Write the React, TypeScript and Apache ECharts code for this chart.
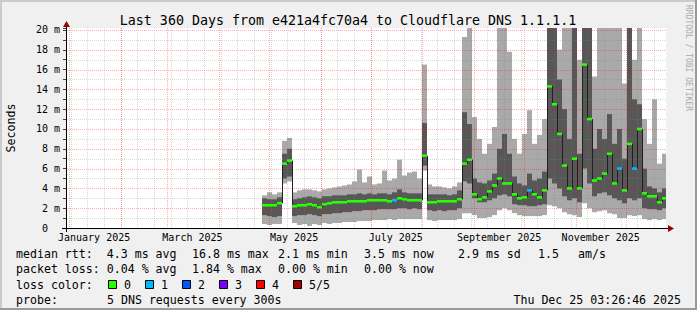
import React, { useEffect, useRef } from 'react';
import * as echarts from 'echarts';

// ---------- data ----------
const TITLE = 'Last 360 Days from e421a4fc70a4 to Cloudflare DNS 1.1.1.1';
const END_TIME = Date.UTC(2025, 11, 25, 3, 26, 46);
const SPAN_DAYS = 360;
const FIRST_SAMPLE = '2025-04-27';
const STEP_DAYS = 3;

// smoke: 5 DNS requests sorted -> min, 2nd, median, 4th, max (ms)
const pingMin = [
  0.4, 0.3, 0.4, 0.4, 4.5, 4.7, 0.5, 0.3, 0.4, 0.2,
  0.4, 0.3, 0.5, 0.4, 0.5, 0.5, 0.6, 0.6, 0.6, 0.7,
  0.7, 0.7, 0.8, 0.8, 0.8, 0.9, 0.8, 0.9, 0.9, 0.9,
  0.9, 0.9, 5.8, 0.8, 0.7, 0.8, 0.8, 0.8, 0.8, 0.9,
  1.5, 1.5, 1.3, 1.0, 1.0, 1.1, 1.3, 1.8, 2.0, 1.8,
  1.5, 1.3, 1.2, 1.2, 1.2, 1.2, 1.3, 2.3, 2.2, 2.0,
  1.6, 1.4, 1.3, 1.1, 2.5, 2.0, 1.6, 1.7, 1.8, 1.5,
  1.4, 1.0, 1.0, 1.3, 1.2, 1.3, 0.9, 0.8, 0.9, 0.8,
  0.9,
];
const pingLow = [
  1.3, 1.2, 1.1, 1.2, 5.0, 5.2, 1.2, 1.3, 1.3, 1.4,
  1.3, 1.2, 1.4, 1.4, 1.5, 1.5, 1.6, 1.6, 1.7, 1.7,
  1.8, 1.8, 1.8, 1.9, 1.9, 1.9, 1.9, 2.0, 2.0, 1.9,
  2.0, 1.9, 6.3, 1.8, 1.7, 1.8, 1.7, 1.8, 1.8, 2.0,
  4.7, 4.5, 3.0, 2.6, 2.6, 2.8, 3.0, 3.3, 3.4, 3.2,
  2.4, 2.3, 2.3, 2.2, 2.2, 2.3, 2.4, 5.0, 4.5, 4.0,
  3.2, 2.8, 3.0, 2.6, 6.0, 4.5, 3.2, 3.5, 3.6, 3.3,
  3.0, 2.8, 2.5, 3.0, 2.8, 3.0, 2.0, 1.9, 1.9, 1.8,
  2.0,
];
const medianRtt = [
  2.3, 2.3, 2.3, 2.5, 6.5, 6.8, 2.2, 2.3, 2.3, 2.4,
  2.3, 2.1, 2.4, 2.5, 2.6, 2.6, 2.6, 2.7, 2.7, 2.7,
  2.7, 2.8, 2.8, 2.8, 2.8, 2.7, 2.8, 3.0, 2.9, 2.8,
  2.8, 2.8, 7.3, 2.6, 2.6, 2.7, 2.7, 2.7, 2.7, 2.9,
  6.5, 6.9, 3.4, 2.9, 3.1, 3.7, 4.3, 5.0, 4.5, 4.5,
  3.4, 3.0, 3.1, 3.8, 3.4, 3.1, 3.8, 14.3, 12.5, 9.5,
  6.3, 4.0, 7.0, 4.0, 16.5, 11.0, 4.8, 5.0, 5.5, 7.5,
  4.5, 6.0, 3.8, 8.5, 6.0, 10.0, 3.5, 3.2, 3.2, 2.6,
  3.0,
];
const pingHigh = [
  3.0, 2.9, 2.9, 3.1, 7.5, 8.0, 2.9, 3.0, 3.1, 3.2,
  3.1, 3.0, 3.2, 3.2, 3.3, 3.3, 3.3, 3.4, 3.4, 3.5,
  3.4, 3.5, 3.4, 3.5, 3.5, 3.4, 3.6, 3.9, 3.6, 3.5,
  3.5, 3.5, 10.6, 3.4, 3.4, 3.4, 3.4, 3.3, 3.4, 3.8,
  11.7, 10.5, 5.0, 4.6, 4.5, 4.8, 5.5, 8.0, 9.5, 7.5,
  5.2, 4.5, 4.3, 5.5, 4.8, 5.0, 5.7, 20.5, 20.5, 15.0,
  12.0, 9.0, 20.5, 7.5, 20.5, 20.5, 8.0, 10.0, 9.0, 11.5,
  8.5, 10.0, 7.0, 20.5, 13.0, 12.5, 6.0, 4.2, 4.0, 3.6,
  4.0,
];
const pingMax = [
  3.3, 3.6, 3.4, 3.6, 8.8, 9.1, 3.6, 3.8, 3.9, 3.9,
  3.8, 3.7, 3.9, 4.0, 4.1, 4.2, 4.3, 4.4, 4.7, 5.9,
  4.6, 5.2, 4.4, 4.5, 5.8, 4.8, 5.0, 6.9, 5.3, 5.6,
  5.7, 5.0, 16.5, 4.4, 4.2, 4.2, 4.1, 4.0, 4.2, 4.6,
  19.3, 20.5, 11.2, 9.0, 7.5, 8.5, 10.2, 20.5, 20.5, 17.8,
  9.0, 7.5, 9.5, 11.9, 8.5, 9.4, 11.0, 20.5, 20.5, 18.0,
  20.5, 20.5, 20.5, 17.0, 20.5, 20.5, 15.3, 20.5, 20.5, 20.5,
  20.5, 20.5, 14.6, 20.5, 17.0, 20.5, 11.0, 8.5, 13.0, 6.5,
  7.5,
];
const lossCount = [
  0, 0, 0, 0, 0, 0, 0, 0, 0, 0,
  0, 0, 0, 0, 0, 0, 0, 0, 0, 0,
  0, 0, 0, 0, 0, 0, 1, 0, 0, 0,
  0, 0, 0, 0, 0, 0, 0, 0, 0, 0,
  0, 0, 0, 0, 0, 0, 0, 0, 0, 0,
  0, 0, 0, 1, 0, 0, 0, 0, 0, 0,
  0, 0, 0, 0, 0, 0, 0, 0, 0, 0,
  0, 1, 0, 0, 1, 0, 0, 0, 0, 0,
  0,
];

const Y_MAX = 20.2;
const MONTH_LABELS = ['January 2025', 'March 2025', 'May 2025', 'July 2025', 'September 2025', 'November 2025'];
const MONTH_LABEL_DATES = ['2025-01-16', '2025-03-16', '2025-05-16', '2025-07-16', '2025-09-16', '2025-11-16'];

const LOSS_LABELS = ['0', '1', '2', '3', '4', '5/5'];
const LOSS_COLORS = ['#26ff00', '#00b8ff', '#0059ff', '#7b00ff', '#ff0000', '#a10000'];

const RTT_ITEMS = ['median rtt:  4.3 ms avg', '16.8 ms max', '2.1 ms min', '3.5 ms now', '2.9 ms sd', '1.5', 'am/s'];
const LOSS_ITEMS = ['packet loss: 0.04 % avg', '1.84 % max', '0.00 % min', '0.00 % now'];
const PROBE_LABEL = 'probe:';
const PROBE_TEXT = '5 DNS requests every 300s';
const STAMP = 'Thu Dec 25 03:26:46 2025';
const LOSS_COLOR_LABEL = 'loss color:';
const WATERMARK = 'RRDTOOL / TOBI OETIKER';
const Y_TITLE = 'Seconds';

// ---------- styles ----------
const MONO = '"DejaVu Sans Mono", monospace';
const LIGHT = '#a9a9a9';
const DARK = '#575757';
const MAJOR = 'rgba(255,0,0,0.32)';
const MINOR = 'rgba(130,130,130,0.32)';

const DAY = 86400000;

function buildOption() {
  const endDay = END_TIME / DAY;
  const startDay = endDay - SPAN_DAYS;
  const firstDay = Date.parse(FIRST_SAMPLE) / DAY;

  const smoke = medianRtt.map((m, i) => [
    firstDay + i * STEP_DAYS, pingMin[i], pingLow[i], m, pingHigh[i], pingMax[i], lossCount[i],
    i > 0 ? medianRtt[i - 1] : m,
  ]);

  const vGrid: number[][] = [];
  for (let d = Math.ceil(startDay / 10) * 10; d < endDay; d += 10) vGrid.push([d, 0]);
  for (let m = 0; m < 12; m++) vGrid.push([Date.UTC(2025, m, 1) / DAY, 1]);
  const hGrid: number[][] = [];
  for (let v = 1; v <= 20; v++) hGrid.push([startDay, v, v % 2 === 0 ? 1 : 0]);

  const labelDays = MONTH_LABEL_DATES.map((s) => Date.parse(s) / DAY);

  const colOf = (api: any, cs: any, x: number) => {
    const l = Math.round(api.coord([x, 0])[0]);
    const r = Math.min(Math.round(api.coord([x + STEP_DAYS, 0])[0]), cs.x + cs.width);
    return [l, r];
  };
  const yOf = (api: any, cs: any, x: number, v: number) => Math.max(cs.y, api.coord([x, Math.min(v, Y_MAX)])[1]);

  const textEl = (text: string, x: number, y: number, extra: any = {}) => ({
    type: 'text', x, y, silent: true,
    style: { text, fill: '#000', fontFamily: MONO, fontSize: 11.6, verticalAlign: 'middle', align: 'left', ...extra },
  });

  const rttX = [16, 192, 278, 364, 458, 538, 578];
  const lossX = [16, 192, 278, 364];
  const rows = [254, 269, 284.5, 300];

  const graphics: any[] = [
    { type: 'rect', shape: { x: 0, y: 0, width: 697, height: 2 }, style: { fill: '#cbcbcb' }, silent: true },
    { type: 'rect', shape: { x: 0, y: 0, width: 2, height: 310 }, style: { fill: '#cbcbcb' }, silent: true },
    { type: 'rect', shape: { x: 0, y: 308, width: 697, height: 2 }, style: { fill: '#999999' }, silent: true },
    { type: 'rect', shape: { x: 695, y: 0, width: 2, height: 310 }, style: { fill: '#999999' }, silent: true },
    textEl(TITLE, 348, 20, { align: 'center', fontSize: 13.3 }),
    { ...textEl(Y_TITLE, 11, 128, { align: 'center' }), rotation: Math.PI / 2 },
    { ...textEl(WATERMARK, 688, 5, { fontSize: 8, fill: '#aaaaaa' }), rotation: -Math.PI / 2 },
    // axes
    { type: 'line', z: 50, shape: { x1: 66.5, y1: 25, x2: 66.5, y2: 232 }, style: { stroke: '#000', lineWidth: 1 }, silent: true },
    { type: 'line', z: 50, shape: { x1: 62, y1: 228.5, x2: 669, y2: 228.5 }, style: { stroke: '#000', lineWidth: 1 }, silent: true },
    { type: 'polygon', z: 50, shape: { points: [[63, 27], [70, 27], [66.5, 21]] }, style: { fill: '#990000' }, silent: true },
    { type: 'polygon', z: 50, shape: { points: [[668, 225], [668, 232], [674, 228.5]] }, style: { fill: '#990000' }, silent: true },
  ];
  RTT_ITEMS.forEach((t, i) => graphics.push(textEl(t, rttX[i], rows[0])));
  LOSS_ITEMS.forEach((t, i) => graphics.push(textEl(t, lossX[i], rows[1])));
  graphics.push(textEl(LOSS_COLOR_LABEL, 16, rows[2]));
  LOSS_LABELS.forEach((t, i) => {
    const bx = 108 + i * 37;
    graphics.push({ type: 'rect', shape: { x: bx + 0.5, y: rows[2] - 4, width: 8, height: 8 }, style: { fill: LOSS_COLORS[i], stroke: '#000', lineWidth: 1 }, silent: true });
    graphics.push(textEl(t, bx + 16, rows[2]));
  });
  graphics.push(textEl(PROBE_LABEL, 16, rows[3]));
  graphics.push(textEl(PROBE_TEXT, 107, rows[3]));
  graphics.push(textEl(STAMP, 681, rows[3], { align: 'right' }));

  return {
    animation: false,
    backgroundColor: '#f0f0f0',
    textStyle: { fontFamily: MONO },
    grid: { left: 66, top: 28, width: 600, height: 200, show: true, backgroundColor: '#ffffff', borderWidth: 0, containLabel: false, outerBoundsMode: 'none' },
    xAxis: {
      type: 'value', min: startDay, max: endDay,
      axisLine: { show: false }, axisTick: { show: false }, splitLine: { show: false },
      axisLabel: {
        customValues: labelDays,
        margin: 4, fontSize: 10, color: '#000', fontFamily: MONO,
        formatter: (v: number) => {
          const k = labelDays.findIndex((d) => Math.abs(d - v) < 0.01);
          return k >= 0 ? MONTH_LABELS[k] : '';
        },
      },
    },
    yAxis: {
      type: 'value', min: 0, max: Y_MAX, interval: 1,
      axisLine: { show: false }, splitLine: { show: false },
      axisTick: { show: true, length: 3, lineStyle: { color: '#444' } },
      axisLabel: {
        margin: 6, fontSize: 10, color: '#000', fontFamily: MONO,
        formatter: (v: number) => {
          const r = Math.round(v);
          if (Math.abs(v - r) > 1e-6 || r % 2 !== 0) return '';
          return r === 0 ? '0\u00a0\u00a0' : `${r} m`;
        },
      },
    },
    graphic: graphics,
    series: [
      {
        type: 'custom', name: 'smoke', z: 2, silent: true, data: smoke,
        renderItem: (params: any, api: any) => {
          const cs = params.coordSys;
          const x = api.value(0);
          const [l, r] = colOf(api, cs, x);
          if (r <= l) return null;
          const band = (lo: number, hi: number, fill: string) => {
            const t = yOf(api, cs, x, hi);
            const b = yOf(api, cs, x, lo);
            return { type: 'rect', shape: { x: l, y: t, width: r - l, height: b - t }, style: { fill } };
          };
          return { type: 'group', children: [band(api.value(1), api.value(5), LIGHT), band(api.value(2), api.value(4), DARK)] };
        },
      },
      {
        type: 'custom', name: 'vgrid', z: 3, silent: true, data: vGrid,
        renderItem: (params: any, api: any) => {
          const cs = params.coordSys;
          const px = Math.round(api.coord([api.value(0), 0])[0]) + 0.5;
          if (px < cs.x + 1 || px > cs.x + cs.width) return null;
          return { type: 'line', shape: { x1: px, y1: cs.y, x2: px, y2: cs.y + cs.height }, style: { stroke: api.value(1) ? MAJOR : MINOR, lineWidth: 1, lineDash: [1, 1] } };
        },
      },
      {
        type: 'custom', name: 'hgrid', z: 3, silent: true, data: hGrid,
        renderItem: (params: any, api: any) => {
          const cs = params.coordSys;
          const py = Math.round(api.coord([api.value(0), api.value(1)])[1]) + 0.5;
          return { type: 'line', shape: { x1: cs.x, y1: py, x2: cs.x + cs.width, y2: py }, style: { stroke: api.value(2) ? MAJOR : MINOR, lineWidth: 1, lineDash: [1, 1] } };
        },
      },
      {
        type: 'custom', name: 'median', z: 4, silent: true, data: smoke,
        renderItem: (params: any, api: any) => {
          const cs = params.coordSys;
          const x = api.value(0);
          const [l, r] = colOf(api, cs, x);
          if (r <= l) return null;
          const ym = yOf(api, cs, x, api.value(3));
          const yp = yOf(api, cs, x, api.value(7));
          return {
            type: 'group',
            children: [
              { type: 'line', shape: { x1: l + 0.5, y1: yp, x2: l + 0.5, y2: ym }, style: { stroke: '#202020', lineWidth: 1 } },
              { type: 'rect', shape: { x: l, y: ym - 1.3, width: r - l, height: 2.6 }, style: { fill: LOSS_COLORS[api.value(6)] } },
            ],
          };
        },
      },
    ],
  };
}

export default function App() {
  const ref = useRef<HTMLDivElement>(null);
  useEffect(() => {
    if (!ref.current) return;
    const chart = echarts.init(ref.current, null, { renderer: 'svg' });
    chart.setOption(buildOption() as any);
    return () => chart.dispose();
  }, []);
  return <div ref={ref} style={{ position: 'fixed', left: 0, top: 0, width: 697, height: 310 }} />;
}
